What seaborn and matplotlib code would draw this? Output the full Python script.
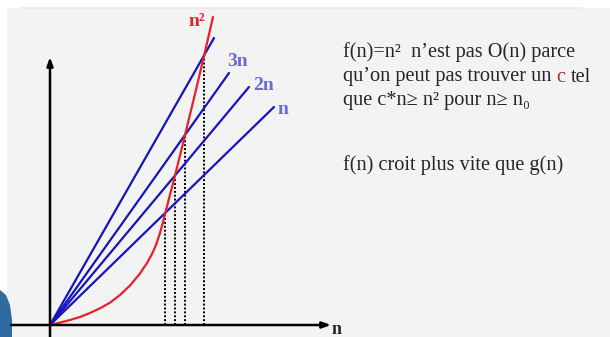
import matplotlib
matplotlib.use("Agg")
import matplotlib.pyplot as plt
import seaborn as sns
import pandas as pd
from matplotlib.patches import Rectangle, Polygon
from matplotlib.lines import Line2D

sns.set_style("white")
plt.rcParams['font.family'] = ['Liberation Serif', 'DejaVu Serif']

# ---- data (units: arbitrary) ----
series_names = ["4n", "3n", "2n", "n"]
line_end_x = [164, 179, 199, 224]
line_end_y = [287, 252, 238, 218]

curve_x = [0, 10, 20, 30, 40, 50, 60, 70, 80, 90, 97, 102, 106, 110, 113, 115,
           118, 121, 125, 130, 135, 145, 154, 163]
curve_y = [0, 2.4, 5, 8, 12, 16.7, 22.3, 30, 39.5, 51.5, 62, 71, 80, 92, 103, 111,
           122.5, 134, 149.5, 169.5, 190, 231, 269, 308]

cross_x = [115, 125, 135, 154]
cross_y = [112, 150, 190, 270]

line_labels = ["3n", "2n", "n"]
line_label_x = [187, 213, 233]
line_label_y = [264, 240, 215]

text_lines = ["f(n)=n²  n’est pas O(n) parce",
              "qu’on peut pas trouver un", "c", "tel",
              "que c*n≥ n² pour n≥ n₀",
              "f(n) croit plus vite que g(n)"]

BLUE = "#1515c0"
LBLUE = "#6a6ae0"
RED = "#e5222a"

W, H = 610, 337
fig = plt.figure(figsize=(W / 100, H / 100), dpi=100)
fig.patch.set_facecolor("white")

# slide background
fig.add_artist(Rectangle((7 / W, 0), 1, (H - 8) / H, transform=fig.transFigure,
                         facecolor="#f3f3f3", edgecolor="none", zorder=0))
fig.add_artist(Line2D([20 / W, 582 / W], [(H - 7.5) / H] * 2, transform=fig.transFigure,
                      color="#fbe3e3", lw=1.2, zorder=0))
fig.add_artist(Polygon([(0, 0), (12 / W, 0), (12 / W, 17 / H), (10 / W, 32 / H),
                        (6 / W, 42 / H), (0, 47 / H)], closed=True,
                       transform=fig.transFigure, facecolor="#2f6aa0",
                       edgecolor="none", zorder=0))

ax = fig.add_axes([50 / W, 12 / H, 280 / W, 317 / H])
ax.set_xlim(0, 280)
ax.set_ylim(0, 317)
ax.set_facecolor("none")
for s in ax.spines.values():
    s.set_visible(False)
ax.set_xticks([])
ax.set_yticks([])

# blue lines
rows = []
for name, ex, ey in zip(series_names, line_end_x, line_end_y):
    rows.append({"serie": name, "n": 0, "val": 0})
    rows.append({"serie": name, "n": ex, "val": ey})
df = pd.DataFrame(rows)
sns.lineplot(data=df, x="n", y="val", hue="serie", palette={k: BLUE for k in series_names},
             legend=False, ax=ax, sort=False, estimator=None, lw=1.6, zorder=3)

# red curve
dfc = pd.DataFrame({"n": curve_x, "val": curve_y})
sns.lineplot(data=dfc, x="n", y="val", color=RED, ax=ax, sort=False, estimator=None,
             lw=1.6, zorder=4)

# dotted verticals
ax.vlines(cross_x, 0, cross_y, colors="black", linestyles=(0, (1, 1)), lw=1.4, zorder=2)

# axes with arrows
ax.annotate("", xy=(281, 0), xytext=(-39, 0),
            arrowprops=dict(arrowstyle="-|>,head_length=0.5,head_width=0.18", lw=1.8,
                            color="black", shrinkA=0, shrinkB=0),
            annotation_clip=False, zorder=5)
ax.annotate("", xy=(0, 268), xytext=(0, -14),
            arrowprops=dict(arrowstyle="-|>,head_length=0.5,head_width=0.18", lw=1.8,
                            color="black", shrinkA=0, shrinkB=0),
            annotation_clip=False, zorder=5)
ax.text(287, -5, "n", fontsize=13, fontweight="bold", ha="center", va="center",
        clip_on=False)

# line labels
for lab, lx, ly in zip(line_labels, line_label_x, line_label_y):
    ax.text(lx, ly, lab, color=LBLUE, fontsize=14, fontweight="bold",
            ha="center", va="center", clip_on=False)
ax.text(147, 304, "n²", color=RED, fontsize=14, fontweight="bold",
        ha="center", va="center", clip_on=False)

# right-hand text
fs = 14.6
x0 = 343 / W
t1 = fig.text(x0, (H - 57) / H, text_lines[0], fontsize=fs, va="baseline")
t2 = fig.text(x0, (H - 81.5) / H, text_lines[1], fontsize=fs, va="baseline")
sp = 0.26 * fs
t2c = ax.annotate(text_lines[2], xy=(1, (H - 81.5) / H), xycoords=(t2, "figure fraction"),
                  xytext=(sp, 0), textcoords="offset points", fontsize=fs,
                  va="baseline", color="#d42020", annotation_clip=False)
ax.annotate(text_lines[3], xy=(1, (H - 81.5) / H), xycoords=(t2c, "figure fraction"),
            xytext=(sp, 0), textcoords="offset points", fontsize=fs,
            va="baseline", annotation_clip=False)
fig.text(x0, (H - 105.5) / H, text_lines[4], fontsize=fs, va="baseline")
fig.text(x0, (H - 170) / H, text_lines[5], fontsize=fs, va="baseline")

fig.savefig("out.png", dpi=100)
